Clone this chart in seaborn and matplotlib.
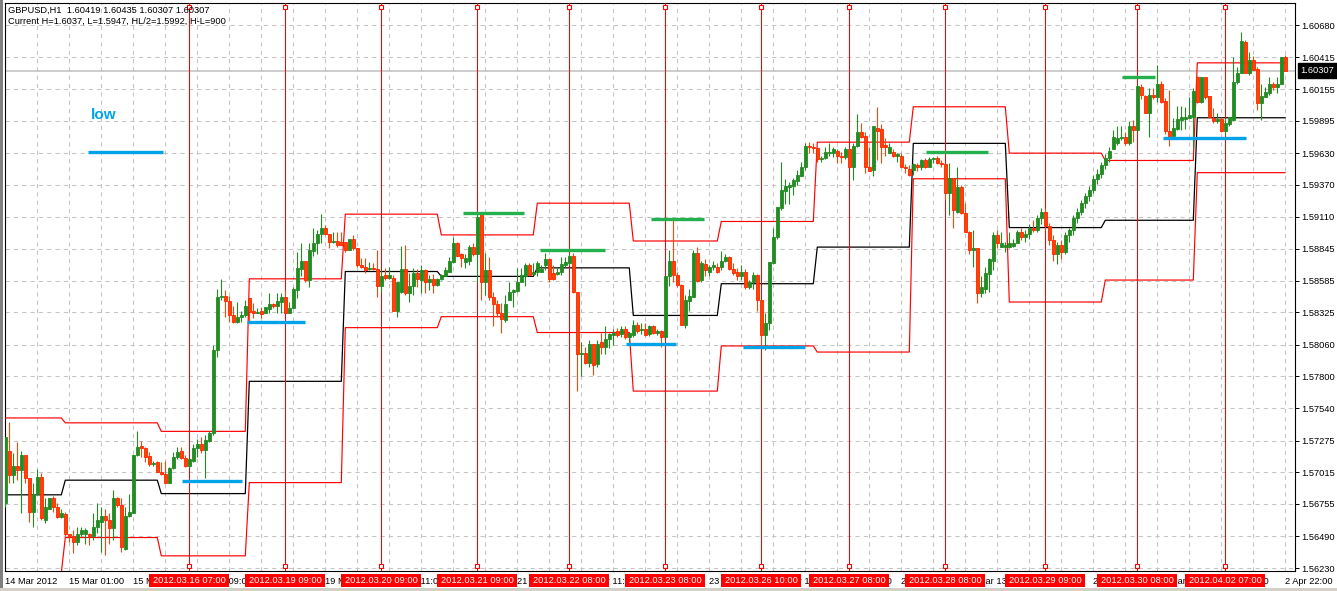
import numpy as np
import pandas as pd
import matplotlib
matplotlib.use("Agg")
import matplotlib.pyplot as plt
import matplotlib.transforms as mtransforms
from matplotlib.patches import Rectangle
import seaborn as sns

# ---------------- data (GBPUSD H1, 14 Mar 2012 - 2 Apr 2012) ----------------
symbol_line = "GBPUSD,H1  1.60419 1.60435 1.60307 1.60307"
info_line = "Current H=1.6037, L=1.5947, HL/2=1.5992, H-L=900"

opens = [
1.5676,1.5719,1.5699,1.5707,1.5703,1.5716,1.5697,1.5669,1.5684,1.5698,
1.5662,1.5671,1.5680,1.5673,1.5665,1.5667,1.5651,1.5649,1.5644,1.5651,
1.5651,1.5651,1.5649,1.5657,1.5661,1.5666,1.5662,1.5656,1.5680,1.5675,
1.5639,1.5666,1.5668,1.5716,1.5723,1.5721,1.5715,1.5708,1.5710,1.5702,
1.5700,1.5693,1.5705,1.5714,1.5719,1.5713,1.5707,1.5711,1.5721,1.5725,
1.5720,1.5727,1.5734,1.5802,1.5845,1.5846,1.5842,1.5830,1.5825,1.5829,
1.5830,1.5844,1.5834,1.5832,1.5834,1.5832,1.5835,1.5839,1.5838,1.5841,
1.5845,1.5832,1.5836,1.5851,1.5868,1.5875,1.5859,1.5883,1.5889,1.5897,
1.5902,1.5897,1.5890,1.5891,1.5890,1.5890,1.5884,1.5893,1.5885,1.5871,
1.5870,1.5868,1.5869,1.5868,1.5854,1.5863,1.5861,1.5861,1.5834,1.5849,
1.5868,1.5848,1.5854,1.5865,1.5859,1.5867,1.5857,1.5860,1.5855,1.5860,
1.5862,1.5866,1.5874,1.5889,1.5880,1.5874,1.5875,1.5886,1.5880,1.5914,
1.5857,1.5867,1.5845,1.5839,1.5832,1.5826,1.5843,1.5849,1.5850,1.5857,
1.5862,1.5871,1.5864,1.5866,1.5866,1.5871,1.5876,1.5865,1.5864,1.5866,
1.5871,1.5873,1.5879,1.5849,1.5798,1.5799,1.5791,1.5807,1.5790,1.5808,
1.5804,1.5811,1.5814,1.5817,1.5815,1.5819,1.5812,1.5814,1.5822,1.5818,
1.5819,1.5815,1.5821,1.5816,1.5817,1.5812,1.5862,1.5875,1.5863,1.5855,
1.5822,1.5842,1.5845,1.5881,1.5859,1.5872,1.5866,1.5870,1.5870,1.5870,
1.5875,1.5878,1.5868,1.5866,1.5862,1.5866,1.5853,1.5857,1.5863,1.5843,
1.5814,1.5824,1.5873,1.5894,1.5918,1.5932,1.5935,1.5936,1.5940,1.5944,
1.5952,1.5969,1.5968,1.5967,1.5958,1.5959,1.5963,1.5963,1.5965,1.5961,
1.5960,1.5966,1.5952,1.5969,1.5980,1.5977,1.5952,1.5949,1.5984,1.5983,
1.5970,1.5963,1.5964,1.5961,1.5961,1.5952,1.5950,1.5949,1.5953,1.5952,
1.5957,1.5952,1.5958,1.5959,1.5955,1.5954,1.5930,1.5943,1.5915,1.5935,
1.5914,1.5898,1.5884,1.5885,1.5848,1.5852,1.5864,1.5875,1.5896,1.5886,
1.5886,1.5886,1.5887,1.5889,1.5898,1.5894,1.5897,1.5902,1.5900,1.5910,
1.5915,1.5903,1.5892,1.5880,1.5888,1.5882,1.5896,1.5900,1.5910,1.5915,
1.5922,1.5928,1.5933,1.5942,1.5946,1.5953,1.5959,1.5966,1.5971,1.5975,
1.5976,1.5971,1.5985,1.5982,1.6017,1.6010,1.5996,1.6011,1.6009,1.6020,
1.6006,1.5981,1.5977,1.5983,1.5990,1.5991,1.5992,1.5993,1.6025,1.6005,
1.6025,1.6010,1.5992,1.5989,1.5991,1.5981,1.5987,1.5990,1.6021,1.6029,
1.6054,1.6029,1.6039,1.6032,1.6004,1.6009,1.6012,1.6020,1.6017,1.6020,
1.60419]

highs = [
1.5730,1.5743,1.5717,1.5726,1.5719,1.5716,1.5697,1.5693,1.5704,1.5701,
1.5680,1.5680,1.5682,1.5676,1.5671,1.5669,1.5651,1.5654,1.5657,1.5657,
1.5656,1.5652,1.5668,1.5676,1.5673,1.5671,1.5668,1.5687,1.5681,1.5680,
1.5673,1.5684,1.5716,1.5735,1.5727,1.5722,1.5718,1.5711,1.5711,1.5710,
1.5711,1.5706,1.5718,1.5722,1.5722,1.5716,1.5712,1.5725,1.5729,1.5730,
1.5732,1.5735,1.5806,1.5852,1.5860,1.5851,1.5846,1.5838,1.5841,1.5834,
1.5843,1.5844,1.5840,1.5836,1.5837,1.5837,1.5848,1.5840,1.5848,1.5848,
1.5851,1.5841,1.5853,1.5882,1.5889,1.5875,1.5889,1.5902,1.5900,1.5913,
1.5904,1.5897,1.5898,1.5898,1.5898,1.5890,1.5893,1.5896,1.5885,1.5877,
1.5877,1.5874,1.5873,1.5884,1.5867,1.5869,1.5870,1.5863,1.5857,1.5887,
1.5888,1.5865,1.5869,1.5868,1.5871,1.5868,1.5863,1.5864,1.5861,1.5864,
1.5870,1.5878,1.5894,1.5890,1.5881,1.5880,1.5888,1.5889,1.5915,1.5915,
1.5881,1.5878,1.5849,1.5843,1.5840,1.5847,1.5857,1.5852,1.5869,1.5869,
1.5873,1.5873,1.5873,1.5875,1.5871,1.5881,1.5877,1.5871,1.5870,1.5878,
1.5878,1.5881,1.5881,1.5849,1.5808,1.5804,1.5810,1.5807,1.5810,1.5816,
1.5821,1.5816,1.5819,1.5820,1.5821,1.5821,1.5816,1.5826,1.5825,1.5824,
1.5824,1.5822,1.5822,1.5819,1.5818,1.5862,1.5884,1.5908,1.5866,1.5856,
1.5847,1.5852,1.5884,1.5886,1.5875,1.5876,1.5871,1.5875,1.5873,1.5883,
1.5880,1.5879,1.5873,1.5869,1.5871,1.5868,1.5859,1.5866,1.5864,1.5843,
1.5832,1.5874,1.5902,1.5919,1.5956,1.5942,1.5939,1.5943,1.5949,1.5956,
1.5971,1.5972,1.5971,1.5968,1.5961,1.5968,1.5971,1.5968,1.5966,1.5964,
1.5968,1.5967,1.5971,1.5995,1.5988,1.5980,1.5968,1.5985,1.6001,1.5987,
1.5975,1.5971,1.5966,1.5963,1.5963,1.5954,1.5953,1.5955,1.5955,1.5958,
1.5959,1.5960,1.5960,1.5961,1.5957,1.5955,1.5955,1.5943,1.5952,1.5937,
1.5922,1.5899,1.5900,1.5885,1.5862,1.5870,1.5877,1.5898,1.5900,1.5898,
1.5890,1.5898,1.5893,1.5900,1.5902,1.5900,1.5905,1.5908,1.5912,1.5918,
1.5918,1.5906,1.5896,1.5890,1.5892,1.5898,1.5902,1.5912,1.5918,1.5925,
1.5930,1.5936,1.5945,1.5950,1.5956,1.5962,1.5968,1.5982,1.5985,1.5985,
1.5980,1.5989,1.5990,1.6019,1.6020,1.6011,1.6016,1.6016,1.6035,1.6022,
1.6008,1.6015,1.5992,1.6002,1.6002,1.6001,1.6009,1.6016,1.6026,1.6025,
1.6025,1.6010,1.6000,1.5996,1.5993,1.5992,1.5993,1.6042,1.6034,1.6062,
1.6056,1.6046,1.6043,1.6034,1.6020,1.6017,1.6025,1.6021,1.6025,1.6042,
1.60435]

lows = [
1.5673,1.5693,1.5693,1.5695,1.5668,1.5693,1.5661,1.5657,1.5684,1.5662,
1.5660,1.5671,1.5669,1.5664,1.5664,1.5649,1.5644,1.5635,1.5642,1.5649,
1.5643,1.5642,1.5646,1.5652,1.5636,1.5634,1.5643,1.5646,1.5673,1.5636,
1.5638,1.5665,1.5668,1.5715,1.5714,1.5710,1.5707,1.5707,1.5702,1.5699,
1.5693,1.5693,1.5704,1.5712,1.5712,1.5706,1.5705,1.5710,1.5714,1.5717,
1.5697,1.5726,1.5732,1.5796,1.5843,1.5829,1.5825,1.5824,1.5824,1.5825,
1.5829,1.5824,1.5828,1.5832,1.5828,1.5832,1.5832,1.5836,1.5832,1.5832,
1.5832,1.5832,1.5836,1.5844,1.5862,1.5857,1.5853,1.5879,1.5880,1.5889,
1.5896,1.5885,1.5889,1.5886,1.5888,1.5882,1.5884,1.5884,1.5870,1.5869,
1.5865,1.5867,1.5867,1.5845,1.5849,1.5859,1.5860,1.5834,1.5829,1.5848,
1.5847,1.5841,1.5847,1.5853,1.5848,1.5848,1.5851,1.5848,1.5854,1.5859,
1.5862,1.5866,1.5873,1.5879,1.5870,1.5869,1.5871,1.5879,1.5857,1.5843,
1.5847,1.5843,1.5821,1.5829,1.5816,1.5825,1.5843,1.5837,1.5849,1.5857,
1.5854,1.5862,1.5863,1.5862,1.5866,1.5867,1.5857,1.5859,1.5863,1.5863,
1.5870,1.5871,1.5848,1.5768,1.5780,1.5790,1.5788,1.5781,1.5788,1.5798,
1.5798,1.5803,1.5806,1.5812,1.5812,1.5811,1.5808,1.5812,1.5816,1.5815,
1.5813,1.5813,1.5815,1.5814,1.5804,1.5812,1.5854,1.5857,1.5853,1.5822,
1.5820,1.5834,1.5845,1.5857,1.5857,1.5862,1.5862,1.5867,1.5865,1.5867,
1.5874,1.5867,1.5863,1.5859,1.5859,1.5852,1.5852,1.5852,1.5834,1.5806,
1.5802,1.5818,1.5872,1.5893,1.5916,1.5921,1.5921,1.5929,1.5937,1.5944,
1.5949,1.5963,1.5963,1.5956,1.5956,1.5958,1.5961,1.5960,1.5955,1.5955,
1.5958,1.5952,1.5941,1.5968,1.5975,1.5947,1.5948,1.5944,1.5957,1.5955,
1.5961,1.5963,1.5960,1.5956,1.5952,1.5947,1.5944,1.5945,1.5948,1.5949,
1.5951,1.5952,1.5955,1.5954,1.5952,1.5925,1.5912,1.5902,1.5914,1.5913,
1.5898,1.5880,1.5870,1.5840,1.5845,1.5848,1.5849,1.5867,1.5885,1.5886,
1.5882,1.5885,1.5886,1.5889,1.5892,1.5890,1.5893,1.5898,1.5898,1.5905,
1.5900,1.5888,1.5875,1.5872,1.5876,1.5880,1.5890,1.5896,1.5906,1.5912,
1.5918,1.5924,1.5930,1.5938,1.5943,1.5950,1.5956,1.5966,1.5970,1.5974,
1.5970,1.5970,1.5972,1.5982,1.6007,1.5996,1.5976,1.6007,1.6005,1.6004,
1.5979,1.5969,1.5976,1.5982,1.5982,1.5983,1.5992,1.5967,1.6004,1.6004,
1.6007,1.5992,1.5988,1.5988,1.5980,1.5978,1.5985,1.5990,1.6020,1.6029,
1.6029,1.6027,1.6031,1.5998,1.5990,1.6009,1.6011,1.6015,1.6012,1.6020,
1.60307]

closes = [
1.5730,1.5699,1.5707,1.5703,1.5716,1.5697,1.5669,1.5684,1.5698,1.5664,
1.5673,1.5680,1.5673,1.5665,1.5668,1.5651,1.5649,1.5644,1.5651,1.5654,
1.5654,1.5649,1.5657,1.5662,1.5666,1.5662,1.5656,1.5680,1.5675,1.5640,
1.5666,1.5669,1.5716,1.5722,1.5721,1.5714,1.5708,1.5709,1.5702,1.5700,
1.5693,1.5705,1.5714,1.5718,1.5713,1.5707,1.5712,1.5721,1.5725,1.5720,
1.5728,1.5734,1.5802,1.5845,1.5846,1.5842,1.5830,1.5825,1.5829,1.5830,
1.5838,1.5833,1.5832,1.5833,1.5831,1.5837,1.5839,1.5838,1.5842,1.5845,
1.5832,1.5836,1.5852,1.5869,1.5875,1.5859,1.5884,1.5889,1.5897,1.5902,
1.5897,1.5890,1.5891,1.5888,1.5888,1.5884,1.5893,1.5885,1.5871,1.5870,
1.5867,1.5869,1.5868,1.5854,1.5862,1.5861,1.5863,1.5834,1.5857,1.5868,
1.5848,1.5854,1.5865,1.5860,1.5867,1.5857,1.5860,1.5855,1.5860,1.5863,
1.5867,1.5875,1.5889,1.5879,1.5877,1.5877,1.5886,1.5880,1.5911,1.5857,
1.5867,1.5845,1.5839,1.5832,1.5827,1.5839,1.5849,1.5851,1.5857,1.5863,
1.5871,1.5863,1.5866,1.5873,1.5868,1.5876,1.5860,1.5860,1.5866,1.5872,
1.5874,1.5879,1.5849,1.5798,1.5799,1.5791,1.5807,1.5789,1.5807,1.5804,
1.5811,1.5815,1.5816,1.5814,1.5819,1.5812,1.5816,1.5822,1.5817,1.5819,
1.5814,1.5821,1.5816,1.5817,1.5812,1.5862,1.5875,1.5863,1.5855,1.5822,
1.5843,1.5846,1.5881,1.5858,1.5873,1.5867,1.5870,1.5871,1.5866,1.5875,
1.5878,1.5868,1.5865,1.5862,1.5866,1.5853,1.5857,1.5863,1.5843,1.5814,
1.5824,1.5874,1.5894,1.5919,1.5933,1.5936,1.5937,1.5941,1.5945,1.5952,
1.5969,1.5968,1.5967,1.5958,1.5959,1.5964,1.5964,1.5966,1.5961,1.5960,
1.5966,1.5952,1.5969,1.5980,1.5976,1.5952,1.5948,1.5985,1.5981,1.5968,
1.5968,1.5968,1.5961,1.5962,1.5952,1.5951,1.5945,1.5954,1.5952,1.5957,
1.5952,1.5958,1.5959,1.5955,1.5954,1.5930,1.5943,1.5916,1.5935,1.5914,
1.5898,1.5884,1.5885,1.5848,1.5853,1.5865,1.5876,1.5896,1.5889,1.5889,
1.5888,1.5889,1.5889,1.5898,1.5894,1.5897,1.5902,1.5900,1.5910,1.5915,
1.5903,1.5892,1.5880,1.5888,1.5882,1.5896,1.5900,1.5910,1.5915,1.5922,
1.5928,1.5933,1.5942,1.5946,1.5953,1.5959,1.5965,1.5976,1.5975,1.5976,
1.5971,1.5985,1.5982,1.6018,1.6011,1.5996,1.6011,1.6009,1.6020,1.6005,
1.5981,1.5976,1.5984,1.5991,1.5993,1.5993,1.5994,1.6014,1.6005,1.6025,
1.6009,1.5993,1.5989,1.5991,1.5981,1.5988,1.5993,1.6021,1.6029,1.6055,
1.6029,1.6039,1.6031,1.6004,1.6010,1.6013,1.6020,1.6017,1.6020,1.6042,
1.60307]

# previous-day channel (segment start bar, upper, middle, lower)
seg_start = [0, 15, 39, 61, 85, 109, 133, 157, 179, 203, 227, 251, 275, 298]
seg_upper = [1.5746, 1.5742, 1.5735, 1.5860, 1.5913, 1.5896, 1.5922, 1.5891, 1.5907, 1.5972, 1.6001, 1.5963, 1.5957, 1.6037]
seg_mid   = [1.5683, 1.5695, 1.5684, 1.5776, 1.5866, 1.5862, 1.5869, 1.5830, 1.5856, 1.5886, 1.5971, 1.5902, 1.5908, 1.5992]
seg_lower = [1.5619, 1.5648, 1.5633, 1.5693, 1.5820, 1.5829, 1.5816, 1.5768, 1.5805, 1.5800, 1.5942, 1.5841, 1.5859, 1.5947]

# hand-drawn marks: (first bar, last bar, price)
low_marks  = [(20.7, 39.4, 1.5964), (44.2, 59.2, 1.5694), (60.4, 74.9, 1.5825),
              (155.2, 167.7, 1.5807), (184.4, 199.9, 1.5804), (289.4, 310.2, 1.5975)]
high_marks = [(114.4, 129.7, 1.5914), (133.7, 149.9, 1.5884), (161.4, 174.7, 1.5909),
              (230.2, 245.7, 1.5964), (279.2, 287.4, 1.6025)]
low_label = "low"

# vertical line objects
vline_bars = [46, 70, 94, 118, 141, 165, 189, 211, 235, 260, 283, 305]
vline_labels = ["2012.03.16 07:00", "2012.03.19 09:00", "2012.03.20 09:00", "2012.03.21 09:00",
                "2012.03.22 08:00", "2012.03.23 08:00", "2012.03.26 10:00", "2012.03.27 08:00",
                "2012.03.28 08:00", "2012.03.29 09:00", "2012.03.30 08:00", "2012.04.02 07:00"]

# time axis labels (every 16 bars)
time_tick_bars = list(range(0, 321, 16))
time_labels = ["14 Mar 2012", "15 Mar 01:00", "15 Mar 17:00", "16 Mar 09:00", "19 Mar 03:00",
               "19 Mar 19:00", "20 Mar 11:00", "21 Mar 03:00", "21 Mar 19:00", "22 Mar 11:00",
               "23 Mar 03:00", "23 Mar 19:00", "26 Mar 13:00", "27 Mar 05:00", "27 Mar 21:00",
               "28 Mar 13:00", "29 Mar 05:00", "29 Mar 21:00", "30 Mar 13:00", "2 Apr 06:00",
               "2 Apr 22:00"]

price_ticks = [1.60680, 1.60415, 1.60155, 1.59895, 1.59630, 1.59370, 1.59110, 1.58845, 1.58585,
               1.58325, 1.58060, 1.57800, 1.57540, 1.57275, 1.57015, 1.56755, 1.56490, 1.56230]

n_all = [len(opens), len(highs), len(lows), len(closes)]
if len(set(n_all)) != 1:
    raise SystemExit("length mismatch %s" % n_all)

# ---------------- style ----------------
sns.set_style("white")
plt.rcParams['font.family'] = ['Liberation Sans', 'DejaVu Sans']
FS = 6.7

W, H = 1337, 591
fig = plt.figure(figsize=(W / 100, H / 100), dpi=100)
fig.patch.set_facecolor("white")
L, R, T, B = 4.5, 1295.5, 3.0, 571.0
ax = fig.add_axes([L / W, (H - B) / H, (R - L) / W, (B - T) / H])
ax.set_facecolor("white")
ax.set_xlim(-0.2, 322.55)
ax.set_ylim(1.562057, 1.608604)

# grid
grid_col = "#c4c4c4"
ax.set_yticks(price_ticks)
ax.set_yticklabels(["%.5f" % v for v in price_ticks])
ax.set_xticks(time_tick_bars)
ax.set_xticklabels(time_labels, ha="left")
ax.set_xticks(list(range(8, 321, 16)), minor=True)
ax.grid(True, which="both", axis="x", color=grid_col, linestyle=(0, (4, 4)), lw=0.75)
ax.grid(True, which="major", axis="y", color=grid_col, linestyle=(0, (4, 4)), lw=0.75)
ax.set_axisbelow(True)
ax.yaxis.tick_right()
ax.tick_params(axis="y", which="major", direction="out", length=3, width=0.7, pad=1.5,
               labelsize=FS, colors="black")
ax.tick_params(axis="x", which="major", direction="out", length=3, width=0.7, pad=1.5,
               labelsize=FS, colors="black")
ax.tick_params(axis="x", which="minor", direction="out", length=2, width=0.6)
for s in ax.spines.values():
    s.set_color("black")
    s.set_linewidth(0.8)

# bid line
last_close = closes[-1]
ax.axhline(last_close, color="#c0c0c0", lw=1.1, zorder=1)

# channel lines via seaborn
n = len(closes)
bars = np.arange(n)
lengths = np.diff(seg_start + [n])
chan = pd.DataFrame({
    "bar": bars,
    "upper": np.repeat(seg_upper, lengths),
    "mid": np.repeat(seg_mid, lengths),
    "lower": np.repeat(seg_lower, lengths),
})
sns.lineplot(data=chan, x="bar", y="upper", color="#ff0000", lw=0.85, ax=ax, zorder=3)
sns.lineplot(data=chan, x="bar", y="lower", color="#ff0000", lw=0.85, ax=ax, zorder=3)
sns.lineplot(data=chan, x="bar", y="mid", color="#000000", lw=0.9, ax=ax, zorder=3)
ax.set_xlabel("")
ax.set_ylabel("")

# vertical line objects
blend_xa = mtransforms.blended_transform_factory(ax.transData, ax.transAxes)
for b in vline_bars:
    ax.axvline(b, color="#ff0000", lw=0.75, zorder=4)

# candles
o = np.array(opens); h = np.array(highs); l = np.array(lows); c = np.array(closes)
up = c >= o
green, red_body, red_edge = "#228b22", "#ff4500", "#ff2200"
wick_cols = np.where(up, green, red_body)
ax.vlines(bars, l, h, colors=wick_cols, lw=0.8, zorder=5)
body_low = np.minimum(o, c)
body_h = np.maximum(np.abs(c - o), 0.00003)
ax.bar(bars, body_h, bottom=body_low, width=0.62,
       color=np.where(up, green, red_body), edgecolor=np.where(up, green, red_edge),
       lw=0.6, zorder=6)

# marks
for x0, x1, p in low_marks:
    ax.plot([x0, x1], [p, p], color="#00a2e8", lw=2.4, solid_capstyle="butt", zorder=7)
for x0, x1, p in high_marks:
    ax.plot([x0, x1], [p, p], color="#22b14c", lw=2.4, solid_capstyle="butt", zorder=7)
ax.annotate(low_label, xy=(low_marks[0][0], low_marks[0][2]), xytext=(3, 37),
            textcoords="offset pixels", ha="left", va="center", color="#00a2e8",
            fontsize=11, fontweight="bold", zorder=8)

# markers at the ends of the vertical lines and date boxes
for b, lab in zip(vline_bars, vline_labels):
    ax.plot([b], [0.9925], transform=blend_xa, marker="s", ms=3.4, mfc="white",
            mec="#ff0000", mew=0.8, clip_on=False, zorder=9)
    ax.plot([b], [0.009], transform=blend_xa, marker="s", ms=3.4, mfc="white",
            mec="#ff0000", mew=0.8, clip_on=False, zorder=9)
    ax.add_patch(Rectangle((b - 10, -0.0282), 20, 0.0229, transform=blend_xa,
                           facecolor="#ff0000", edgecolor="none", clip_on=False, zorder=10))
    ax.text(b, -0.0168, lab, transform=blend_xa, ha="center", va="center",
            color="white", fontsize=FS, zorder=11, clip_on=False)

# current price label
blend_ad = mtransforms.blended_transform_factory(ax.transAxes, ax.transData)
ax.text(1.0037, last_close, "%.5f" % last_close, transform=blend_ad, ha="left",
        va="center", color="white", fontsize=FS, zorder=12,
        bbox=dict(boxstyle="square,pad=0.28", facecolor="black", edgecolor="black"))

# info text
fig.text(8 / W, 1 - 10.5 / H, symbol_line, ha="left", va="center", fontsize=FS, color="black")
fig.text(8 / W, 1 - 21.5 / H, info_line, ha="left", va="center", fontsize=FS, color="black")

# window edges
fig.add_artist(Rectangle((0, 0), 2.5 / W, 1, transform=fig.transFigure,
                         facecolor="#808080", edgecolor="none"))
fig.add_artist(Rectangle((0, 0), 1, 3 / H, transform=fig.transFigure,
                         facecolor="#d4d0c8", edgecolor="none"))

fig.savefig("out.png", dpi=100, facecolor="white")
